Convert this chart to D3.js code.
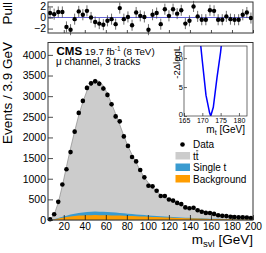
<!DOCTYPE html>
<html>
<head>
<meta charset="utf-8">
<script src="https://cdn.jsdelivr.net/npm/d3@7"></script>
<style>
  body { margin: 0; background: #fff; }
  svg { display: block; font-family: "Liberation Sans", Arial, sans-serif; }
</style>
</head>
<body>
<svg id="chart" width="266" height="253"></svg>
<script>
// binning: 50 bins of 3.9 GeV starting at 5 GeV
const binStart = 5, binWidth = 3.9;

const dataCounts = [18, 140, 440, 860, 1230, 1645, 2140, 2595, 2885, 3200,
                    3310, 3360, 3300, 3185, 3030, 2805, 2510, 2390, 2025, 1795,
                    1525, 1420, 1210, 1033, 830, 815, 710, 580, 580, 497,
                    470, 414, 385, 305, 285, 298, 238, 200, 172, 170,
                    148, 114, 100, 94, 80, 72, 64, 64, 60, 48];
const ttbar = [6, 110, 373, 753, 1185, 1609, 1997, 2370, 2676, 2936,
               3110, 3177, 3158, 3051, 2866, 2633, 2391, 2139, 1877, 1636,
               1435, 1254, 1072, 910, 788, 695, 592, 519, 461, 412,
               368, 334, 300, 269, 243, 217, 191, 165, 142, 122,
               105, 90, 79, 69, 62, 56, 50, 45, 40, 35];
const singleTop = [1, 5, 12, 22, 33, 44, 55, 64, 72, 78,
                   82, 84, 84, 82, 79, 75, 70, 65, 60, 55,
                   50, 45, 41, 37, 33, 30, 27, 24, 21, 19,
                   17, 15, 13, 12, 11, 10, 9, 8, 7, 6,
                   5.5, 5, 4.5, 4, 3.5, 3, 3, 2.5, 2, 2];
const background = [3, 15, 35, 55, 72, 87, 98, 106, 112, 116,
                    118, 119, 118, 117, 115, 112, 109, 106, 103, 99,
                    95, 91, 87, 83, 79, 75, 71, 67, 63, 59,
                    55, 51, 47, 44, 41, 38, 35, 32, 29, 27,
                    25, 23, 21, 19, 17, 15, 14, 13, 12, 11];
const pulls = [0.8, 0.6, 1.0, 1.0, -1.7, -2.2, -0.3, 1.1, 0.5, 1.2,
               0.0, -0.8, -1.1, -1.3, -0.6, -0.3, -1.2, 1.7, -0.3, 0.1,
               -1.4, 0.9, 0.3, 0.1, -2.2, 0.5, 0.8, -1.2, 1.5, 0.3,
               1.5, 0.7, 1.3, -1.1, -0.6, 2.0, 0.2, -0.4, -0.4, 1.3,
               1.2, -0.4, -0.4, 0.2, -0.3, -0.4, -0.4, 0.5, 0.9, -0.1];

const xTicks = [20, 40, 60, 80, 100, 120, 140, 160, 180, 200];
const yTicks = [0, 500, 1000, 1500, 2000, 2500, 3000, 3500, 4000];
const pullTicks = [-2, 0, 2];

// inset likelihood scan
const massPoints = [169, 170, 171, 172, 172.3, 173, 174, 175, 176];
const nllValues = [15.7, 9.5, 3.6, 0.5, 0, 1.5, 6.6, 11.1, 17];
const insetXTicks = [165, 170, 175, 180];
const insetYTicks = [0, 5, 10];

const svg = d3.select("#chart");
const font = "Liberation Sans, Arial, sans-serif";

const x = d3.scaleLinear().domain([5, 200]).range([48, 253]);
const y = d3.scaleLinear().domain([0, 4300]).range([220, 42.5]);
const yp = d3.scaleLinear().domain([-2.8, 2.8]).range([33, 2]);

const centers = dataCounts.map((d, i) => binStart + binWidth * (i + 0.5));

// ---- stacked MC ----
const rows = centers.map((c, i) => ({ c: c, bkg: background[i], st: singleTop[i], tt: ttbar[i] }));
const stack = d3.stack().keys(["bkg", "st", "tt"])(rows);
const fills = { bkg: "#ff9d00", st: "#3a9bd0", tt: "#cccccc" };

const area = d3.area()
  .x(d => x(d.data.c))
  .y0(d => y(d[0]))
  .y1(d => y(d[1]));

// draw total first (from 0), then smaller ones on top so each colour band shows
const layers = stack.slice().reverse();
layers.forEach(layer => {
  const pts = layer.map(d => ({ data: d.data, 0: 0, 1: d[1] }));
  const edgeL = { data: { c: 5 }, 0: 0, 1: 0 };
  const edgeR = { data: { c: 200 }, 0: 0, 1: pts[pts.length - 1][1] };
  svg.append("path")
    .datum([edgeL].concat(pts, [edgeR]))
    .attr("fill", fills[layer.key])
    .attr("stroke", layer.key === "tt" ? "#8a8a8a" : "none")
    .attr("stroke-width", 0.7)
    .attr("d", area);
});

// ---- main axes ----
const gY = svg.append("g").attr("transform", "translate(48,0)");
gY.call(d3.axisLeft(y).tickValues(d3.range(0, 4301, 100)).tickSize(-2.5).tickFormat(""));
gY.call(d3.axisLeft(y).tickValues(yTicks).tickSize(-5).tickPadding(2).tickFormat(d3.format("d")));
gY.selectAll(".domain").remove();
gY.selectAll("line").attr("stroke", "#000").attr("stroke-width", 0.7);
gY.selectAll("text").attr("font-size", 10.5).attr("font-family", font).attr("fill", "#000");

const gX = svg.append("g").attr("transform", "translate(0,220)");
gX.call(d3.axisBottom(x).tickValues(d3.range(8, 201, 4)).tickSize(-2.5).tickFormat(""));
gX.call(d3.axisBottom(x).tickValues(xTicks).tickSize(-5).tickPadding(2.5).tickFormat(d3.format("d")));
gX.selectAll(".domain").remove();
gX.selectAll("line").attr("stroke", "#000").attr("stroke-width", 0.7);
gX.selectAll("text").attr("font-size", 10.2).attr("font-family", font).attr("fill", "#000");

// ---- data points ----
svg.append("g").selectAll("line").data(dataCounts).join("line")
  .attr("x1", (d, i) => x(centers[i])).attr("x2", (d, i) => x(centers[i]))
  .attr("y1", d => y(d + Math.sqrt(d))).attr("y2", d => y(Math.max(0, d - Math.sqrt(d))))
  .attr("stroke", "#000").attr("stroke-width", 0.8);
svg.append("g").selectAll("circle").data(dataCounts).join("circle")
  .attr("cx", (d, i) => x(centers[i])).attr("cy", d => y(d)).attr("r", 2.3).attr("fill", "#000");

svg.append("rect").attr("x", 48).attr("y", 42.5).attr("width", 205).attr("height", 177.5)
  .attr("fill", "none").attr("stroke", "#333").attr("stroke-width", 1);

// ---- pull panel ----
svg.append("line").attr("x1", 48).attr("x2", 253).attr("y1", yp(0)).attr("y2", yp(0))
  .attr("stroke", "#3c3cc8").attr("stroke-width", 0.8);

const gPY = svg.append("g").attr("transform", "translate(48,0)");
gPY.call(d3.axisLeft(yp).tickValues(d3.range(-2.5, 2.6, 0.5)).tickSize(-2.5).tickFormat(""));
gPY.call(d3.axisLeft(yp).tickValues(pullTicks).tickSize(-5).tickPadding(2).tickFormat(d3.format("d")));
gPY.selectAll(".domain").remove();
gPY.selectAll("line").attr("stroke", "#000").attr("stroke-width", 0.7);
gPY.selectAll("text").attr("font-size", 10.5).attr("font-family", font).attr("fill", "#000");

const gPX = svg.append("g").attr("transform", "translate(0,33)");
gPX.call(d3.axisBottom(x).tickValues(d3.range(8, 201, 4)).tickSize(-1.5).tickFormat(""));
gPX.call(d3.axisBottom(x).tickValues(xTicks).tickSize(-3).tickFormat(""));
gPX.selectAll(".domain").remove();
gPX.selectAll("line").attr("stroke", "#000").attr("stroke-width", 0.7);

svg.append("g").selectAll("line").data(pulls).join("line")
  .attr("x1", (d, i) => x(centers[i])).attr("x2", (d, i) => x(centers[i]))
  .attr("y1", d => yp(d + 1)).attr("y2", d => yp(d - 1))
  .attr("stroke", "#444").attr("stroke-width", 0.8);
svg.append("g").selectAll("circle").data(pulls).join("circle")
  .attr("cx", (d, i) => x(centers[i])).attr("cy", d => yp(d)).attr("r", 2.2).attr("fill", "#000");

svg.append("rect").attr("x", 48).attr("y", 2).attr("width", 205).attr("height", 31)
  .attr("fill", "none").attr("stroke", "#333").attr("stroke-width", 1);

// ---- titles ----
svg.append("text").attr("transform", "translate(12,42) rotate(-90)")
  .attr("text-anchor", "end").attr("font-size", 13.5).attr("font-family", font)
  .text("Events / 3.9 GeV");
svg.append("text").attr("transform", "translate(12,2) rotate(-90)")
  .attr("text-anchor", "end").attr("font-size", 13.5).attr("font-family", font)
  .text("Pull");

const xt = svg.append("text").attr("x", 253).attr("y", 244).attr("text-anchor", "end")
  .attr("font-size", 13.5).attr("font-family", font);
xt.append("tspan").text("m");
xt.append("tspan").attr("font-size", 9.5).attr("dy", 3).text("svl");
xt.append("tspan").attr("dy", -3).text(" [GeV]");

const cms = svg.append("text").attr("x", 56.5).attr("y", 55).attr("font-family", font);
cms.append("tspan").attr("font-weight", "bold").attr("font-size", 11.5).text("CMS");
cms.append("tspan").attr("font-size", 9.8).text(" 19.7 fb");
cms.append("tspan").attr("font-size", 6.5).attr("dy", -4).text("-1");
cms.append("tspan").attr("font-size", 9.8).attr("dy", 4).text(" (8 TeV)");
svg.append("text").attr("x", 56).attr("y", 64.5).attr("font-size", 10).attr("font-family", font)
  .text("\u03bc channel, 3 tracks");

// ---- legend ----
const legend = [
  { label: "Data", type: "dot" },
  { label: "tt", type: "tt" },
  { label: "Single t", type: "st" },
  { label: "Background", type: "bkg" }
];
const legY = d3.scalePoint().domain(legend.map(d => d.label)).range([148, 182.5]);
legend.forEach(d => {
  const by = legY(d.label);
  if (d.type === "dot") {
    svg.append("circle").attr("cx", 182.5).attr("cy", by - 3.5).attr("r", 2.3).attr("fill", "#000");
  } else {
    svg.append("rect").attr("x", 175.5).attr("y", by - 7.5).attr("width", 14.5).attr("height", 7.5)
      .attr("fill", fills[d.type]);
  }
  const t = svg.append("text").attr("x", 193).attr("y", by).attr("font-size", 10).attr("font-family", font)
    .text(d.label);
  if (d.type === "tt") {
    // bar over the second t
    const node = t.node();
    const p0 = node.getStartPositionOfChar(1).x, p1 = node.getEndPositionOfChar(1).x;
    svg.append("line").attr("x1", p0 + 0.3).attr("x2", p1 - 0.3)
      .attr("y1", by - 8.7).attr("y2", by - 8.7).attr("stroke", "#000").attr("stroke-width", 0.7);
  }
});

// ---- inset ----
const ix = d3.scaleLinear().domain([165, 182.2]).range([184, 247]);
const iy = d3.scaleLinear().domain([0, 12.1]).range([116, 46]);

svg.append("defs").append("clipPath").attr("id", "insetClip")
  .append("rect").attr("x", 184).attr("y", 46).attr("width", 63).attr("height", 70);
svg.append("rect").attr("x", 184).attr("y", 46).attr("width", 63).attr("height", 70)
  .attr("fill", "#fff");

const giy = svg.append("g").attr("transform", "translate(184,0)");
giy.call(d3.axisLeft(iy).tickValues(d3.range(0, 12.1, 1)).tickSize(-1.5).tickFormat(""));
giy.call(d3.axisLeft(iy).tickValues(insetYTicks).tickSize(-3).tickPadding(1));
giy.selectAll(".domain").remove();
giy.selectAll("line").attr("stroke", "#000").attr("stroke-width", 0.6);
giy.selectAll("text").attr("font-size", 7.5).attr("font-family", font).attr("fill", "#000");
giy.selectAll(".tick text").filter(d => d === 0).attr("dy", "0em");

const gix = svg.append("g").attr("transform", "translate(0,116)");
gix.call(d3.axisBottom(ix).tickValues(d3.range(166, 182.1, 1)).tickSize(-1.5).tickFormat(""));
gix.call(d3.axisBottom(ix).tickValues(insetXTicks).tickSize(-3).tickPadding(2));
gix.selectAll(".domain").remove();
gix.selectAll("line").attr("stroke", "#000").attr("stroke-width", 0.6);
gix.selectAll("text").attr("font-size", 7).attr("font-family", font).attr("fill", "#000");

svg.append("path")
  .datum(massPoints.map((m, i) => [m, nllValues[i]]))
  .attr("clip-path", "url(#insetClip)")
  .attr("fill", "none").attr("stroke", "#0000ff").attr("stroke-width", 1.5)
  .attr("d", d3.line().x(d => ix(d[0])).y(d => iy(d[1])));

svg.append("rect").attr("x", 184).attr("y", 46).attr("width", 63).attr("height", 70)
  .attr("fill", "none").attr("stroke", "#333").attr("stroke-width", 0.7);

svg.append("text").attr("transform", "translate(180,46) rotate(-90)")
  .attr("text-anchor", "end").attr("font-size", 9.5).attr("font-family", font)
  .text("-2\u0394logL");
const ixt = svg.append("text").attr("x", 245).attr("y", 133).attr("text-anchor", "end")
  .attr("font-size", 10).attr("font-family", font);
ixt.append("tspan").text("m");
ixt.append("tspan").attr("font-size", 7).attr("dy", 2).text("t");
ixt.append("tspan").attr("dy", -2).text(" [GeV]");
</script>
</body>
</html>
